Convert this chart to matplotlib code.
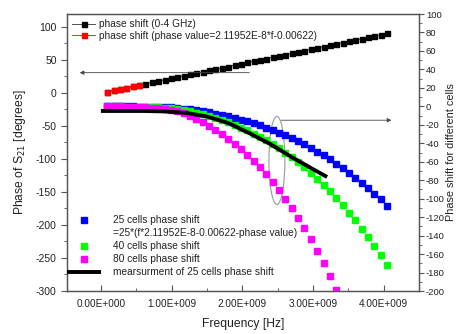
import numpy as np
import matplotlib
matplotlib.use('Agg')
import matplotlib.pyplot as plt
from matplotlib.patches import Ellipse
from matplotlib.ticker import MultipleLocator, FuncFormatter

plt.rcParams['font.family'] = ['Liberation Sans', 'DejaVu Sans']
plt.rcParams['axes.unicode_minus'] = False

# frequency grid (GHz)
freq_ghz = [0.09, 0.18, 0.27, 0.36, 0.45, 0.54, 0.63, 0.72, 0.81, 0.90,
            0.99, 1.08, 1.17, 1.26, 1.35, 1.44, 1.53, 1.62, 1.71, 1.80,
            1.89, 1.98, 2.07, 2.16, 2.25, 2.34, 2.43, 2.52, 2.61, 2.70,
            2.79, 2.88, 2.97, 3.06, 3.15, 3.24, 3.33, 3.42, 3.51, 3.60,
            3.69, 3.78, 3.87, 3.96, 4.05]

# phase of S21 (left axis, degrees)
phase = [1.5, 3.5, 5.5, 7.5, 9.5, 11.5, 13.5, 15.5, 17.6, 19.6,
         21.6, 23.6, 25.6, 27.6, 29.6, 31.6, 33.6, 35.6, 37.6, 39.6,
         41.6, 43.6, 45.7, 47.7, 49.7, 51.7, 53.7, 55.7, 57.7, 59.7,
         61.7, 63.7, 65.7, 67.7, 69.7, 71.7, 73.7, 75.7, 77.7, 79.8,
         81.8, 83.8, 85.8, 87.8, 89.8]
n_red = 6  # first points highlighted in red

# phase shift for different cells (right axis)
cells25 = [0.0, 0.0, 0.0, -0.1, -0.1, -0.2, -0.3, -0.4, -0.6, -0.8,
           -1.2, -1.7, -2.4, -3.2, -4.2, -5.4, -6.6, -7.9, -9.3, -10.9,
           -12.6, -14.4, -16.3, -18.4, -20.6, -23.0, -25.6, -28.4, -31.3, -34.4,
           -37.8, -41.3, -45.0, -48.9, -53.1, -57.4, -62.0, -66.8, -71.9, -77.2,
           -82.7, -88.5, -94.5, -100.8, -107.4]
cells40 = [0.0, 0.0, 0.0, -0.2, -0.2, -0.3, -0.5, -0.6, -1.0, -1.3,
           -1.9, -2.7, -3.8, -5.1, -6.7, -8.6, -10.6, -12.6, -14.9, -17.4,
           -20.2, -23.0, -26.1, -29.4, -33.0, -36.8, -41.0, -45.4, -50.1, -55.0,
           -60.5, -66.1, -72.0, -78.2, -85.0, -91.8, -99.2, -106.9, -115.0, -123.5,
           -132.3, -141.6, -151.2, -161.3, -171.8]
cells80 = [0.0, 0.0, 0.0, -0.3, -0.3, -0.6, -1.0, -1.3, -1.9, -2.6,
           -3.8, -5.4, -7.7, -10.2, -13.4, -17.3, -21.1, -25.3, -29.8, -34.9,
           -40.3, -46.1, -52.2, -58.9, -65.9, -73.6, -81.9, -90.9, -100.2, -110.1,
           -121.0, -132.2, -144.0, -156.5, -169.9, -183.7, -198.4, -213.8]

# measurement of 25 cells
meas_ghz = [0.0, 0.3, 0.6, 0.9, 1.2, 1.5, 1.8, 2.1, 2.4, 2.7, 3.0, 3.2]
meas = [-5.0, -5.0, -5.0, -5.5, -7.0, -11.0, -18.0, -29.0, -41.0, -55.0, -68.0, -76.5]

f = np.array(freq_ghz) * 1e9
fm = np.array(meas_ghz) * 1e9

txt = '#222222'
spine = '#555555'

fig = plt.figure(figsize=(4.58, 3.34), dpi=100)
ax = fig.add_axes([0.1463, 0.1287, 0.7685, 0.8293])
ax2 = ax.twinx()

# left axis series
ax.plot(f, phase, color='#333333', lw=0.6, marker='s', ms=3.6, mfc='black', mec='black',
        label='phase shift (0-4 GHz)')
ax.plot(f[:n_red], phase[:n_red], color='red', lw=0.6, marker='s', ms=3.6, mfc='red', mec='red',
        label='phase shift (phase value=2.11952E-8*f-0.00622)')

# right axis series
ax2.plot(f, cells25, ls='none', marker='s', ms=4.3, color='#0000ff',
         label='25 cells phase shift')
ax2.plot([], [], ls='none', label='=25*(f*2.11952E-8-0.00622-phase value)')
ax2.plot(f, cells40, ls='none', marker='s', ms=4.3, color='#00ff00',
         label='40 cells phase shift')
ax2.plot(f[:len(cells80)], cells80, ls='none', marker='s', ms=4.3, color='#ff00ff',
         label='80 cells phase shift')
ax2.plot(fm, meas, color='black', lw=2.8, solid_capstyle='butt',
         label='mearsurment of 25 cells phase shift')

# annotations
ax.annotate('', xy=(-0.30e9, 30.3), xytext=(2.1e9, 30.3),
            arrowprops=dict(arrowstyle='-|>', color='#444444', lw=0.6,
                            mutation_scale=6, shrinkA=0, shrinkB=0))
ax2.add_patch(Ellipse((2.49e9, -58.6), 0.226e9, 95.4, fill=False,
                      edgecolor='#999999', lw=0.8))
ax2.annotate('', xy=(4.11e9, -15), xytext=(2.55e9, -15),
             arrowprops=dict(arrowstyle='-|>', color='#444444', lw=0.6,
                             mutation_scale=6, shrinkA=0, shrinkB=0))

# axes limits / ticks
ax.set_xlim(-0.48e9, 4.5e9)
ax.set_ylim(-300, 119)
ax2.set_ylim(-200, 100)

ax.xaxis.set_major_locator(MultipleLocator(1e9))
ax.xaxis.set_minor_locator(MultipleLocator(0.5e9))
ax.yaxis.set_major_locator(MultipleLocator(50))
ax.yaxis.set_minor_locator(MultipleLocator(25))
ax2.yaxis.set_major_locator(MultipleLocator(20))
ax2.yaxis.set_minor_locator(MultipleLocator(10))


def sci(v, pos):
    if v == 0:
        return '0.00E+000'
    e = int(np.floor(np.log10(abs(v))))
    return f'{v / 10**e:.2f}E{e:+04d}'


ax.xaxis.set_major_formatter(FuncFormatter(sci))

ax.tick_params(axis='x', which='both', direction='in', top=False, colors=spine,
               labelcolor=txt, labelsize=7.2, pad=6)
ax.tick_params(axis='x', which='major', length=4, width=0.8)
ax.tick_params(axis='x', which='minor', length=2, width=0.6)
ax.tick_params(axis='y', which='both', direction='out', colors=spine,
               labelcolor=txt, labelsize=7.5)
ax.tick_params(axis='y', which='major', length=4, width=0.8)
ax.tick_params(axis='y', which='minor', length=2, width=0.6)
ax2.tick_params(axis='y', which='both', direction='out', colors=spine,
                labelcolor=txt, labelsize=6.8, pad=1.5)
ax2.tick_params(axis='y', which='major', length=3.5, width=0.8)
ax2.tick_params(axis='y', which='minor', length=2, width=0.6)

for a in (ax, ax2):
    for s in a.spines.values():
        s.set_color(spine)
        s.set_linewidth(0.9)

ax.set_xlabel('Frequency [Hz]', fontsize=8.7, color=txt, labelpad=6)
ax.set_ylabel('Phase of S$_{21}$ [degrees]', fontsize=8.7, color=txt)
ax.yaxis.set_label_coords(-0.111, 0.5)
ax2.set_ylabel('Phase shift for different cells', fontsize=7.8, color=txt)
ax2.yaxis.set_label_coords(1.0781, 0.5)

leg1 = ax.legend(loc='upper left', bbox_to_anchor=(0.0, 1.0), frameon=False,
                 fontsize=7.3, handlelength=2.3, handletextpad=0.4,
                 labelspacing=0.15, borderaxespad=0.1, labelcolor=txt)
leg2 = ax2.legend(loc='lower left', bbox_to_anchor=(-0.012, 0.035), frameon=False,
                  fontsize=7.3, handlelength=3.4, handletextpad=1.2,
                  labelspacing=0.3, borderaxespad=0.0, labelcolor=txt)

fig.savefig('out.png', dpi=100)
